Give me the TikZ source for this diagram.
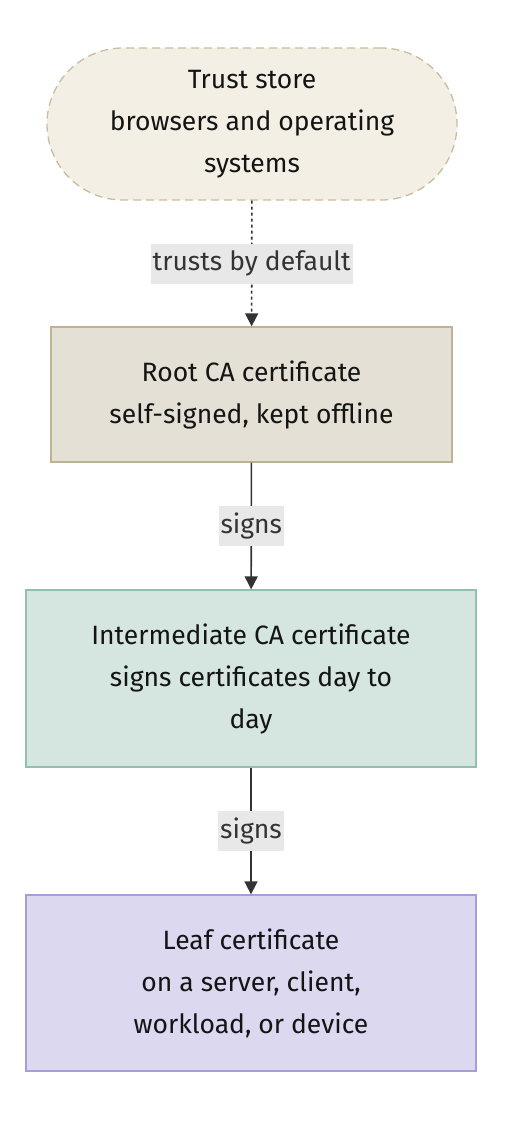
\documentclass[tikz,border=0pt]{standalone}
\usepackage{fontspec}
\setmainfont{Fira Sans}
\usepackage{tikz}
\usetikzlibrary{positioning, arrows.meta}

\definecolor{trustfill}{HTML}{F3EFE4}
\definecolor{trustline}{HTML}{C8BD9E}
\definecolor{rootfill}{HTML}{E4E0D5}
\definecolor{rootline}{HTML}{BDB393}
\definecolor{interfill}{HTML}{D5E5DF}
\definecolor{interline}{HTML}{92C0AF}
\definecolor{leaffill}{HTML}{DCD8F0}
\definecolor{leafline}{HTML}{A99CDB}
\definecolor{edgelbl}{HTML}{E8E8E8}
\definecolor{ink}{HTML}{333333}

\tikzset{
    certbox/.style={draw, line width=1.3pt, align=center, inner sep=0pt,
        font=\fontsize{26.5}{42}\selectfont, text=black!92},
    flow/.style={ink, line width=1.6pt, -{Triangle[length=13pt, width=13pt]}},
    flowlbl/.style={fill=edgelbl, text=ink, inner xsep=2pt, minimum height=40pt,
        font=\fontsize{26.5}{32}\selectfont}
}

\begin{document}
\begin{tikzpicture}[x=1pt, y=-1pt]
    \useasboundingbox (0,0) rectangle (504,1132);
    % chain of trust, top to bottom
    \node[certbox, fill=trustfill, draw=trustline, dash pattern=on 8pt off 5pt,
        rounded corners=76pt, minimum width=410pt, minimum height=152pt]
        (store) at (252,124) {Trust store\\browsers and operating\\systems};
    \node[certbox, fill=rootfill, draw=rootline, minimum width=401pt, minimum height=135pt]
        (root) at (251.5,394.5) {Root CA certificate\\self-signed, kept offline};
    \node[certbox, fill=interfill, draw=interline, minimum width=450pt, minimum height=177pt]
        (inter) at (251,678.5) {Intermediate CA certificate\\signs certificates day to\\day};
    \node[certbox, fill=leaffill, draw=leafline, minimum width=450pt, minimum height=176pt]
        (leaf) at (251,983) {Leaf certificate\\on a server, client,\\workload, or device};

    \draw[flow, dash pattern=on 3pt off 3pt] (store) -- node[flowlbl] {trusts by default} (root);
    \draw[flow] (root) -- node[flowlbl] {signs} (inter);
    \draw[flow] (inter) -- node[flowlbl] {signs} (leaf);
\end{tikzpicture}
\end{document}
